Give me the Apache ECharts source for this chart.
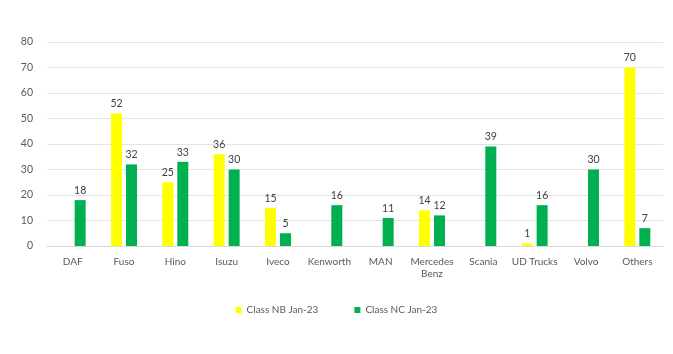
<!DOCTYPE html>
<html><head><meta charset="utf-8">
<script src="https://cdn.jsdelivr.net/npm/echarts@6/dist/echarts.min.js"></script>
<style>html,body{margin:0;padding:0;background:#fff}#c{width:673px;height:354px}</style>
</head><body><div id="c"></div>
<script>
const categories = ["DAF","Fuso","Hino","Isuzu","Iveco","Kenworth","MAN","Mercedes\nBenz","Scania","UD Trucks","Volvo","Others"];
const classNB = [null,52,25,36,15,null,null,14,null,1,null,70];
const classNC = [18,32,33,30,5,16,11,12,39,16,30,7];
const yTicks = [0,10,20,30,40,50,60,70,80];

const font = "Lato, 'Open Sans', sans-serif";
const chart = echarts.init(document.getElementById('c'));
const lbl = {show:true, position:'top', color:'#404040', fontSize:10.5, fontFamily:font, distance:4};
chart.setOption({
  animation:false,
  grid:{left:47, right:10, top:42, bottom:108},
  legend:{bottom:34, left:'center', itemWidth:6, itemHeight:6, itemGap:36, icon:'rect',
    textStyle:{color:'#595959', fontSize:10, fontFamily:font}},
  xAxis:{type:'category', data:categories,
    axisLine:{lineStyle:{color:'#d9d9d9'}}, axisTick:{show:false},
    axisLabel:{interval:0, color:'#595959', fontSize:10, fontFamily:font, margin:10, lineHeight:12}},
  yAxis:{type:'value', min:yTicks[0], max:yTicks[yTicks.length-1], interval:10,
    axisLine:{show:false}, axisTick:{show:false},
    splitLine:{lineStyle:{color:'#e3e3e3'}},
    axisLabel:{color:'#595959', fontSize:10.5, fontFamily:font, margin:14}},
  series:[
    {name:'Class NB Jan-23', type:'bar', data:classNB, itemStyle:{color:'#ffff00'},
     barWidth:11, barGap:'36%', label:lbl},
    {name:'Class NC Jan-23', type:'bar', data:classNC, itemStyle:{color:'#00b050'},
     barWidth:11, label:lbl}
  ]
});
</script></body></html>
